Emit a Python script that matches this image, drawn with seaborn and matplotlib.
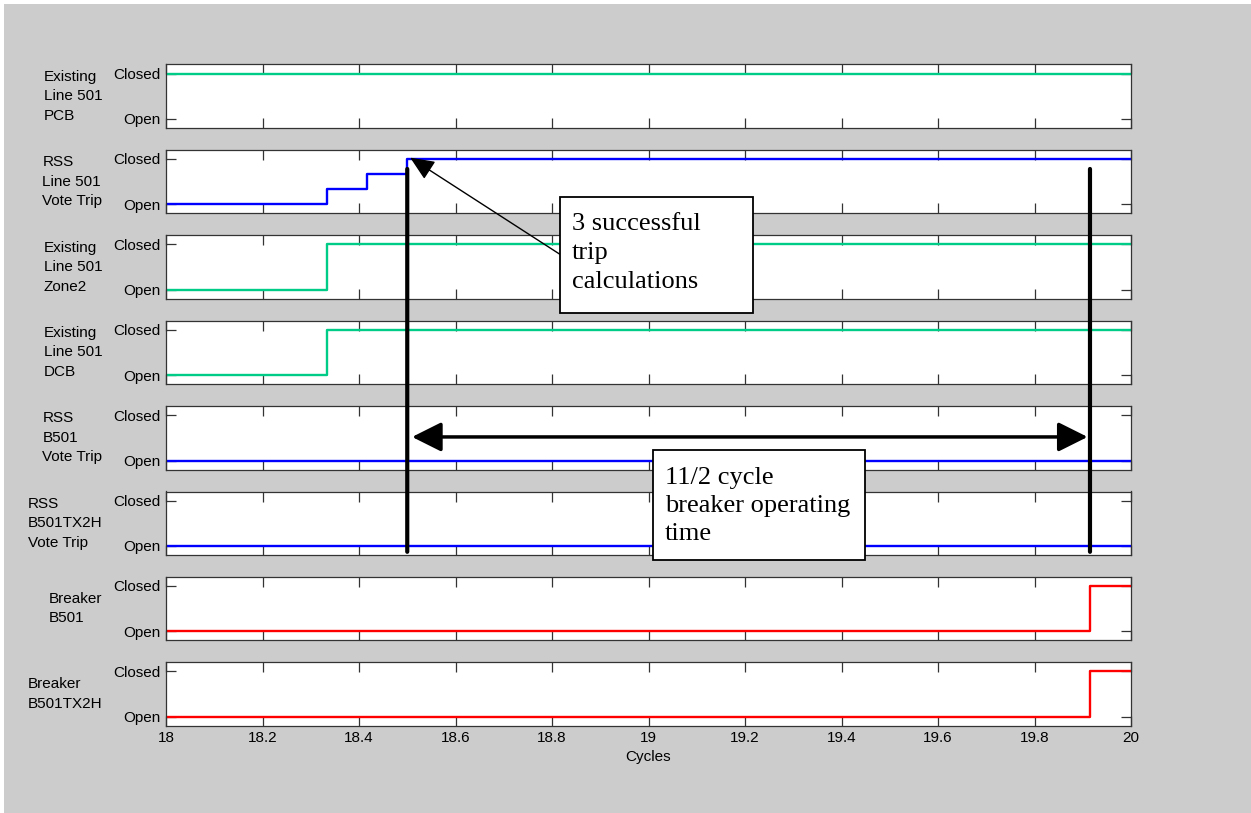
import numpy as np
import pandas as pd
import matplotlib
matplotlib.use('Agg')
import matplotlib.pyplot as plt
import seaborn as sns
from matplotlib.patches import Rectangle, ConnectionPatch

# signal traces (time in cycles, state 0 = Open, 1 = Closed)
signal_labels = ['Existing\nLine 501\nPCB', 'RSS\nLine 501\nVote Trip', 'Existing\nLine 501\nZone2',
                 'Existing\nLine 501\nDCB', 'RSS\nB501\nVote Trip', 'RSS\nB501TX2H\nVote Trip',
                 'Breaker\nB501', 'Breaker\nB501TX2H']
signal_colors = ['#00cc88', '#0000ff', '#00cc88', '#00cc88', '#0000ff', '#0000ff', '#ff0000', '#ff0000']

pcb_t = [18.0, 20.0]
pcb_v = [1, 1]
vote_t = [18.0, 18.333, 18.417, 18.5, 20.0]
vote_v = [0, 1/3, 2/3, 1, 1]
zone2_t = [18.0, 18.333, 20.0]
zone2_v = [0, 1, 1]
dcb_t = [18.0, 18.333, 20.0]
dcb_v = [0, 1, 1]
b501_vote_t = [18.0, 20.0]
b501_vote_v = [0, 0]
tx2h_vote_t = [18.0, 20.0]
tx2h_vote_v = [0, 0]
brk_b501_t = [18.0, 19.915, 20.0]
brk_b501_v = [0, 1, 1]
brk_tx2h_t = [18.0, 19.915, 20.0]
brk_tx2h_v = [0, 1, 1]

signal_times = [pcb_t, vote_t, zone2_t, dcb_t, b501_vote_t, tx2h_vote_t, brk_b501_t, brk_tx2h_t]
signal_values = [pcb_v, vote_v, zone2_v, dcb_v, b501_vote_v, tx2h_vote_v, brk_b501_v, brk_tx2h_v]

x_ticks = [18, 18.2, 18.4, 18.6, 18.8, 19, 19.2, 19.4, 19.6, 19.8, 20]
x_tick_labels = ['18', '18.2', '18.4', '18.6', '18.8', '19', '19.2', '19.4', '19.6', '19.8', '20']
y_ticks = [0, 1]
y_tick_labels = ['Open', 'Closed']

trip_start = 18.5
trip_end = 19.915

plt.rcParams['font.family'] = 'Liberation Sans'

W, H = 1251, 813
fig = plt.figure(figsize=(W / 100, H / 100), dpi=100, facecolor='white')
fig.patches.append(Rectangle((4 / W, 0), 1, 1 - 4 / H, transform=fig.transFigure,
                             facecolor='#cccccc', edgecolor='none', zorder=-5))

ax_left, ax_width = 166 / W, 965 / W
ax_h = 63.5
axes = []
for i in range(8):
    top_px = 64.5 + i * 85.4
    ax = fig.add_axes([ax_left, 1 - (top_px + ax_h) / H, ax_width, ax_h / H])
    df = pd.DataFrame({'t': signal_times[i], 'state': signal_values[i]})
    sns.lineplot(data=df, x='t', y='state', ax=ax, color=signal_colors[i], linewidth=1.7,
                 drawstyle='steps-post')
    ax.set_xlim(18, 20)
    ax.set_ylim(-0.2, 1.2)
    ax.set_xticks(x_ticks)
    ax.set_yticks(y_ticks)
    ax.set_yticklabels(y_tick_labels)
    ax.tick_params(direction='in', top=True, right=True, length=7.5, width=0.9,
                   color='#333333', labelsize=11, pad=4)
    for s in ax.spines.values():
        s.set_color('#333333')
        s.set_linewidth(0.9)
    ax.set_ylabel('')
    ax.set_xlabel('')
    ax.text(-0.066, 0.5, signal_labels[i], transform=ax.transAxes, ha='right', va='center',
            multialignment='left', fontsize=11, linespacing=1.5)
    if i < 7:
        ax.tick_params(labelbottom=False)
    else:
        ax.set_xticklabels(x_tick_labels)
        ax.set_xlabel('Cycles', fontsize=11, labelpad=3)
    axes.append(ax)

# vertical markers at first trip and breaker operation
for xv in [trip_start, trip_end]:
    fig.add_artist(ConnectionPatch(xyA=(xv, 0.78), coordsA=axes[1].transData,
                                   xyB=(xv, -0.13), coordsB=axes[5].transData,
                                   color='black', lw=3, zorder=5))

# operating time arrow
fig.add_artist(ConnectionPatch(xyA=(trip_start + 0.01, 0.52), coordsA=axes[4].transData,
                               xyB=(trip_end - 0.005, 0.52), coordsB=axes[4].transData,
                               arrowstyle='<|-|>,head_length=1.8,head_width=0.9', mutation_scale=10,
                               color='black', lw=2.5, shrinkA=0, shrinkB=0, zorder=5))

# callout arrow to the third trip calculation
fig.add_artist(ConnectionPatch(xyA=(561 / W, 1 - 255 / H), coordsA=fig.transFigure,
                               xyB=(trip_start + 0.006, 1.03), coordsB=axes[1].transData,
                               arrowstyle='-|>,head_length=1.5,head_width=0.65', mutation_scale=10,
                               color='black', lw=1, shrinkA=0, shrinkB=0, zorder=5))

# text boxes
fig.patches.append(Rectangle((560 / W, 1 - 313 / H), 193 / W, 116 / H, transform=fig.transFigure,
                             facecolor='white', edgecolor='black', lw=1.3, zorder=6))
fig.text(572 / W, 1 - 213 / H, '3 successful\ntrip\ncalculations', family='Liberation Serif',
         fontsize=19, va='top', ha='left', linespacing=1.42, zorder=7)

fig.patches.append(Rectangle((653 / W, 1 - 560 / H), 212 / W, 110 / H, transform=fig.transFigure,
                             facecolor='white', edgecolor='black', lw=1.3, zorder=6))
fig.text(665 / W, 1 - 467 / H, '11/2 cycle\nbreaker operating\ntime', family='Liberation Serif',
         fontsize=19, va='top', ha='left', linespacing=1.36, zorder=7)

plt.savefig('out.png', dpi=100, facecolor=fig.get_facecolor())
